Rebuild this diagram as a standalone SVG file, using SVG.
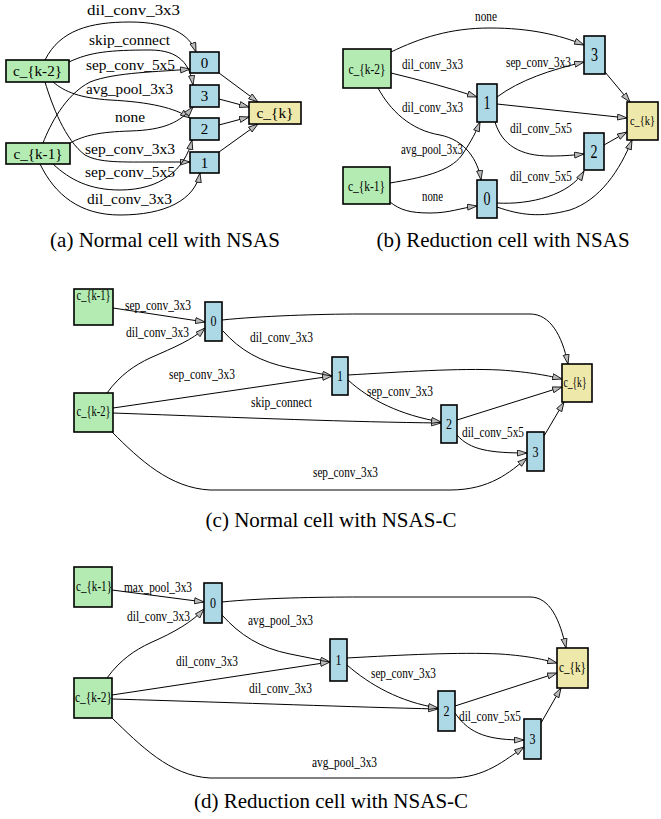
<svg xmlns="http://www.w3.org/2000/svg" width="661" height="819" viewBox="0 0 661 819">
<style>
.e{fill:none;stroke:#000;stroke-width:1}
.g{fill:#b3ebb3;stroke:#000;stroke-width:1.6}
.b{fill:#add8e6;stroke:#000;stroke-width:1.6}
.y{fill:#eee8aa;stroke:#000;stroke-width:1.6}
text{font-family:"Liberation Serif","Times New Roman",serif;fill:#000}
.la{font-size:15px}
.lb{font-size:15px}
.lc{font-size:15px}
.db{font-size:18px}
.dc{font-size:15px}
.n{text-anchor:middle}
.cap{font-size:21px;text-anchor:middle}
</style>
<defs>
<marker id="ar" markerUnits="userSpaceOnUse" markerWidth="11" markerHeight="8" refX="10" refY="3.5" orient="auto">
<path d="M0.5,0.5 L10,3.5 L0.5,6.5 z" fill="#bbb" stroke="#000" stroke-width="0.8"/>
</marker>
</defs>

<g id="connectors">
<!-- (a) -->
<path class="e" marker-end="url(#ar)" d="M45,60 C60,30 90,22 130,22 C170,22 190,35 196,52"/>
<path class="e" marker-end="url(#ar)" d="M69,62 C90,52 110,50 150,50 C180,50 190,65 193,85"/>
<path class="e" marker-end="url(#ar)" d="M43,143 C50,125 65,95 90,82 C115,72 160,72 190,69"/>
<path class="e" marker-end="url(#ar)" d="M53,82 C65,92 80,98 110,100 C150,102 175,108 190,118"/>
<path class="e" marker-end="url(#ar)" d="M70,143 C85,135 100,132 130,131 C165,130 180,122 193,107"/>
<path class="e" marker-end="url(#ar)" d="M45,82 C52,105 65,140 85,155 C100,163 120,162 160,162 L190,162"/>
<path class="e" marker-end="url(#ar)" d="M53,164 C70,180 90,190 120,190 C160,190 185,170 192,140"/>
<path class="e" marker-end="url(#ar)" d="M40,164 C55,195 80,215 120,215 C165,215 195,200 200,173"/>
<path class="e" marker-end="url(#ar)" d="M219,73 L258,102"/>
<path class="e" marker-end="url(#ar)" d="M219,99 L249,107"/>
<path class="e" marker-end="url(#ar)" d="M219,125 L249,117"/>
<path class="e" marker-end="url(#ar)" d="M219,152 L258,124"/>
<!-- (b) -->
<path class="e" marker-end="url(#ar)" d="M391,52 C420,38 450,28 490,28 C530,28 560,35 584,45"/>
<path class="e" marker-end="url(#ar)" d="M391,73 C420,80 450,88 477,97"/>
<path class="e" marker-end="url(#ar)" d="M378,88 C390,110 410,130 440,135 C465,140 478,160 481,180"/>
<path class="e" marker-end="url(#ar)" d="M390,183 C420,178 450,172 462,155 C472,140 476,132 480,122"/>
<path class="e" marker-end="url(#ar)" d="M390,202 C400,210 410,213 430,213 C450,213 460,208 477,206"/>
<path class="e" marker-end="url(#ar)" d="M497,97 C520,80 550,70 584,62"/>
<path class="e" marker-end="url(#ar)" d="M497,104 L627,118"/>
<path class="e" marker-end="url(#ar)" d="M495,122 C502,145 520,156 550,156 C565,156 575,155 584,154"/>
<path class="e" marker-end="url(#ar)" d="M605,72 L630,102"/>
<path class="e" marker-end="url(#ar)" d="M497,203 C530,205 570,195 584,171"/>
<path class="e" marker-end="url(#ar)" d="M497,207 C520,215 540,218 570,210 C600,200 620,170 632,140"/>
<path class="e" marker-end="url(#ar)" d="M604,145 L627,132"/>
<!-- (c) -->
<path class="e" marker-end="url(#ar)" d="M113,308 L205,322"/>
<path class="e" marker-end="url(#ar)" d="M107,393 C120,375 135,365 150,358 C175,347 192,340 205,328"/>
<path class="e" marker-end="url(#ar)" d="M222,320 C260,316 320,314 360,314 L530,314 C550,314 562,335 568,364"/>
<path class="e" marker-end="url(#ar)" d="M223,331 C240,350 260,362 290,368 L332,376"/>
<path class="e" marker-end="url(#ar)" d="M113,408 L332,376"/>
<path class="e" marker-end="url(#ar)" d="M113,413 C250,418 350,422 441,423"/>
<path class="e" marker-end="url(#ar)" d="M112,432 C140,460 170,488 210,490 L450,490 C490,490 510,472 527,458"/>
<path class="e" marker-end="url(#ar)" d="M348,375 C400,372 460,368 500,370 C530,372 550,376 562,379"/>
<path class="e" marker-end="url(#ar)" d="M348,380 C370,400 400,415 441,422"/>
<path class="e" marker-end="url(#ar)" d="M457,420 L562,387"/>
<path class="e" marker-end="url(#ar)" d="M457,435 C470,450 490,453 527,453"/>
<path class="e" marker-end="url(#ar)" d="M544,436 L564,402"/>
<!-- (d) -->
<path class="e" marker-end="url(#ar)" d="M112,590 L204,602"/>
<path class="e" marker-end="url(#ar)" d="M107,678 C120,660 135,650 150,643 C175,632 192,622 204,609"/>
<path class="e" marker-end="url(#ar)" d="M222,602 C260,598 320,597 360,597 L530,597 C550,597 560,620 566,648"/>
<path class="e" marker-end="url(#ar)" d="M222,615 C240,635 260,648 290,654 L330,662"/>
<path class="e" marker-end="url(#ar)" d="M112,695 L330,662"/>
<path class="e" marker-end="url(#ar)" d="M112,699 C250,703 350,707 438,709"/>
<path class="e" marker-end="url(#ar)" d="M112,718 C140,745 170,776 210,778 L450,778 C485,778 505,760 524,747"/>
<path class="e" marker-end="url(#ar)" d="M347,658 C400,655 460,652 500,654 C530,656 545,660 557,663"/>
<path class="e" marker-end="url(#ar)" d="M347,665 C370,685 400,702 438,708"/>
<path class="e" marker-end="url(#ar)" d="M455,706 L557,673"/>
<path class="e" marker-end="url(#ar)" d="M455,713 C470,735 490,740 524,740"/>
<path class="e" marker-end="url(#ar)" d="M541,723 L561,688"/>
</g>

<g id="edge-labels">
<!-- (a) -->
<text class="la" x="87" y="15" textLength="93" lengthAdjust="spacingAndGlyphs">dil_conv_3x3</text>
<text class="la" x="89" y="45" textLength="81" lengthAdjust="spacingAndGlyphs">skip_connect</text>
<text class="la" x="86" y="70" textLength="89" lengthAdjust="spacingAndGlyphs">sep_conv_5x5</text>
<text class="la" x="86" y="94" textLength="87" lengthAdjust="spacingAndGlyphs">avg_pool_3x3</text>
<text class="la" x="115" y="122" textLength="30" lengthAdjust="spacingAndGlyphs">none</text>
<text class="la" x="85" y="154" textLength="90" lengthAdjust="spacingAndGlyphs">sep_conv_3x3</text>
<text class="la" x="85" y="177" textLength="90" lengthAdjust="spacingAndGlyphs">sep_conv_5x5</text>
<text class="la" x="87" y="204" textLength="85" lengthAdjust="spacingAndGlyphs">dil_conv_3x3</text>
<!-- (b) -->
<text class="lb" x="475" y="21" textLength="22" lengthAdjust="spacingAndGlyphs">none</text>
<text class="lb" x="402" y="69" textLength="61" lengthAdjust="spacingAndGlyphs">dil_conv_3x3</text>
<text x="506" y="67" style="font-size:14px" textLength="65" lengthAdjust="spacingAndGlyphs">sep_conv_3x3</text>
<text class="lb" x="402" y="112" textLength="61" lengthAdjust="spacingAndGlyphs">dil_conv_3x3</text>
<text class="lb" x="401" y="154" textLength="62" lengthAdjust="spacingAndGlyphs">avg_pool_3x3</text>
<text class="lb" x="510" y="133" textLength="62" lengthAdjust="spacingAndGlyphs">dil_conv_5x5</text>
<text class="lb" x="510" y="181" textLength="62" lengthAdjust="spacingAndGlyphs">dil_conv_5x5</text>
<text class="lb" x="422" y="201" textLength="21" lengthAdjust="spacingAndGlyphs">none</text>
<!-- (c) -->
<text class="lc" x="125" y="310" textLength="66" lengthAdjust="spacingAndGlyphs">sep_conv_3x3</text>
<text class="lc" x="126" y="337" textLength="63" lengthAdjust="spacingAndGlyphs">dil_conv_3x3</text>
<text class="lc" x="250" y="342" textLength="63" lengthAdjust="spacingAndGlyphs">dil_conv_3x3</text>
<text class="lc" x="169" y="379" textLength="66" lengthAdjust="spacingAndGlyphs">sep_conv_3x3</text>
<text class="lc" x="251" y="407" textLength="61" lengthAdjust="spacingAndGlyphs">skip_connect</text>
<text class="lc" x="367" y="396" textLength="66" lengthAdjust="spacingAndGlyphs">sep_conv_3x3</text>
<text class="lc" x="462" y="437" textLength="62" lengthAdjust="spacingAndGlyphs">dil_conv_5x5</text>
<text class="lc" x="313" y="477" textLength="65" lengthAdjust="spacingAndGlyphs">sep_conv_3x3</text>
<!-- (d) -->
<text class="lc" x="124" y="592" textLength="68" lengthAdjust="spacingAndGlyphs">max_pool_3x3</text>
<text class="lc" x="127" y="621" textLength="63" lengthAdjust="spacingAndGlyphs">dil_conv_3x3</text>
<text class="lc" x="248" y="625" textLength="65" lengthAdjust="spacingAndGlyphs">avg_pool_3x3</text>
<text class="lc" x="176" y="666" textLength="62" lengthAdjust="spacingAndGlyphs">dil_conv_3x3</text>
<text class="lc" x="249" y="693" textLength="63" lengthAdjust="spacingAndGlyphs">dil_conv_3x3</text>
<text class="lc" x="371" y="678" textLength="65" lengthAdjust="spacingAndGlyphs">sep_conv_3x3</text>
<text class="lc" x="459" y="721" textLength="62" lengthAdjust="spacingAndGlyphs">dil_conv_5x5</text>
<text class="lc" x="312" y="767" textLength="65" lengthAdjust="spacingAndGlyphs">avg_pool_3x3</text>
</g>

<!-- (a) nodes -->
<g id="a-ck2"><rect class="g" x="6" y="60" width="63" height="22"/><text class="la n" x="37.5" y="76" textLength="49" lengthAdjust="spacingAndGlyphs">c_{k-2}</text></g>
<g id="a-ck1"><rect class="g" x="6" y="143" width="64" height="21"/><text class="la n" x="38" y="159" textLength="49" lengthAdjust="spacingAndGlyphs">c_{k-1}</text></g>
<g id="a-n0"><rect class="b" x="190" y="52" width="29" height="21"/><text class="la n" x="204.5" y="67.5">0</text></g>
<g id="a-n3"><rect class="b" x="190" y="85" width="29" height="22"/><text class="la n" x="204.5" y="101">3</text></g>
<g id="a-n2"><rect class="b" x="190" y="118" width="29" height="22"/><text class="la n" x="204.5" y="134">2</text></g>
<g id="a-n1"><rect class="b" x="190" y="152" width="29" height="21"/><text class="la n" x="204.5" y="167.5">1</text></g>
<g id="a-ck"><rect class="y" x="249" y="102" width="52" height="22"/><text class="la n" x="275" y="118" textLength="37" lengthAdjust="spacingAndGlyphs">c_{k}</text></g>

<!-- (b) nodes -->
<g id="b-ck2"><rect class="g" x="343" y="49" width="48" height="39"/><text class="lb n" x="367" y="74" textLength="37" lengthAdjust="spacingAndGlyphs">c_{k-2}</text></g>
<g id="b-ck1"><rect class="g" x="343" y="167" width="47" height="37"/><text class="lb n" x="366.5" y="191" textLength="37" lengthAdjust="spacingAndGlyphs">c_{k-1}</text></g>
<g id="b-n1"><rect class="b" x="477" y="84" width="20" height="38"/><text class="db n" x="487" y="109" textLength="7" lengthAdjust="spacingAndGlyphs">1</text></g>
<g id="b-n0"><rect class="b" x="477" y="180" width="20" height="38"/><text class="db n" x="487" y="205" textLength="7" lengthAdjust="spacingAndGlyphs">0</text></g>
<g id="b-n3"><rect class="b" x="584" y="36" width="21" height="38"/><text class="db n" x="594.5" y="61" textLength="7" lengthAdjust="spacingAndGlyphs">3</text></g>
<g id="b-n2"><rect class="b" x="584" y="133" width="20" height="37"/><text class="db n" x="594" y="158" textLength="7" lengthAdjust="spacingAndGlyphs">2</text></g>
<g id="b-ck"><rect class="y" x="627" y="102" width="31" height="38"/><text class="n" style="font-size:12.5px" x="642.5" y="125" textLength="25" lengthAdjust="spacingAndGlyphs">c_{k}</text></g>

<!-- (c) nodes -->
<g id="c-ck1"><rect class="g" x="74" y="289" width="39" height="36"/><text class="lc n" x="93.5" y="300" textLength="34" lengthAdjust="spacingAndGlyphs">c_{k-1}</text></g>
<g id="c-ck2"><rect class="g" x="74" y="393" width="39" height="39"/><text class="lc n" x="93.5" y="416" textLength="34" lengthAdjust="spacingAndGlyphs">c_{k-2}</text></g>
<g id="c-n0"><rect class="b" x="205" y="302" width="17" height="39"/><text class="dc n" x="213.5" y="326" textLength="6" lengthAdjust="spacingAndGlyphs">0</text></g>
<g id="c-n1"><rect class="b" x="332" y="357" width="16" height="38"/><text class="dc n" x="340" y="381" textLength="6" lengthAdjust="spacingAndGlyphs">1</text></g>
<g id="c-n2"><rect class="b" x="441" y="405" width="16" height="38"/><text class="dc n" x="449" y="429" textLength="6" lengthAdjust="spacingAndGlyphs">2</text></g>
<g id="c-n3"><rect class="b" x="527" y="432" width="17" height="39"/><text class="dc n" x="535.5" y="457" textLength="6" lengthAdjust="spacingAndGlyphs">3</text></g>
<g id="c-ck"><rect class="y" x="562" y="364" width="30" height="38"/><text class="lc n" x="575" y="387" textLength="23" lengthAdjust="spacingAndGlyphs">c_{k}</text></g>

<!-- (d) nodes -->
<g id="d-ck1"><rect class="g" x="74" y="567" width="38" height="40"/><text class="lc n" x="94" y="591" textLength="36" lengthAdjust="spacingAndGlyphs">c_{k-1}</text></g>
<g id="d-ck2"><rect class="g" x="74" y="678" width="38" height="40"/><text class="lc n" x="93.5" y="702" textLength="37" lengthAdjust="spacingAndGlyphs">c_{k-2}</text></g>
<g id="d-n0"><rect class="b" x="204" y="583" width="18" height="40"/><text class="dc n" x="213" y="608" textLength="6" lengthAdjust="spacingAndGlyphs">0</text></g>
<g id="d-n1"><rect class="b" x="330" y="639" width="17" height="42"/><text class="dc n" x="338.5" y="665" textLength="6" lengthAdjust="spacingAndGlyphs">1</text></g>
<g id="d-n2"><rect class="b" x="438" y="691" width="17" height="40"/><text class="dc n" x="446.5" y="716" textLength="6" lengthAdjust="spacingAndGlyphs">2</text></g>
<g id="d-n3"><rect class="b" x="524" y="719" width="17" height="40"/><text class="dc n" x="532.5" y="744" textLength="6" lengthAdjust="spacingAndGlyphs">3</text></g>
<g id="d-ck"><rect class="y" x="557" y="648" width="31" height="40"/><text class="lc n" x="572.5" y="672" textLength="27" lengthAdjust="spacingAndGlyphs">c_{k}</text></g>

<g id="captions">
<text class="cap" x="165" y="247">(a) Normal cell with NSAS</text>
<text class="cap" x="503" y="247">(b) Reduction cell with NSAS</text>
<text class="cap" x="331" y="527">(c) Normal cell with NSAS-C</text>
<text class="cap" x="331" y="808">(d) Reduction cell with NSAS-C</text>
</g>
</svg>
